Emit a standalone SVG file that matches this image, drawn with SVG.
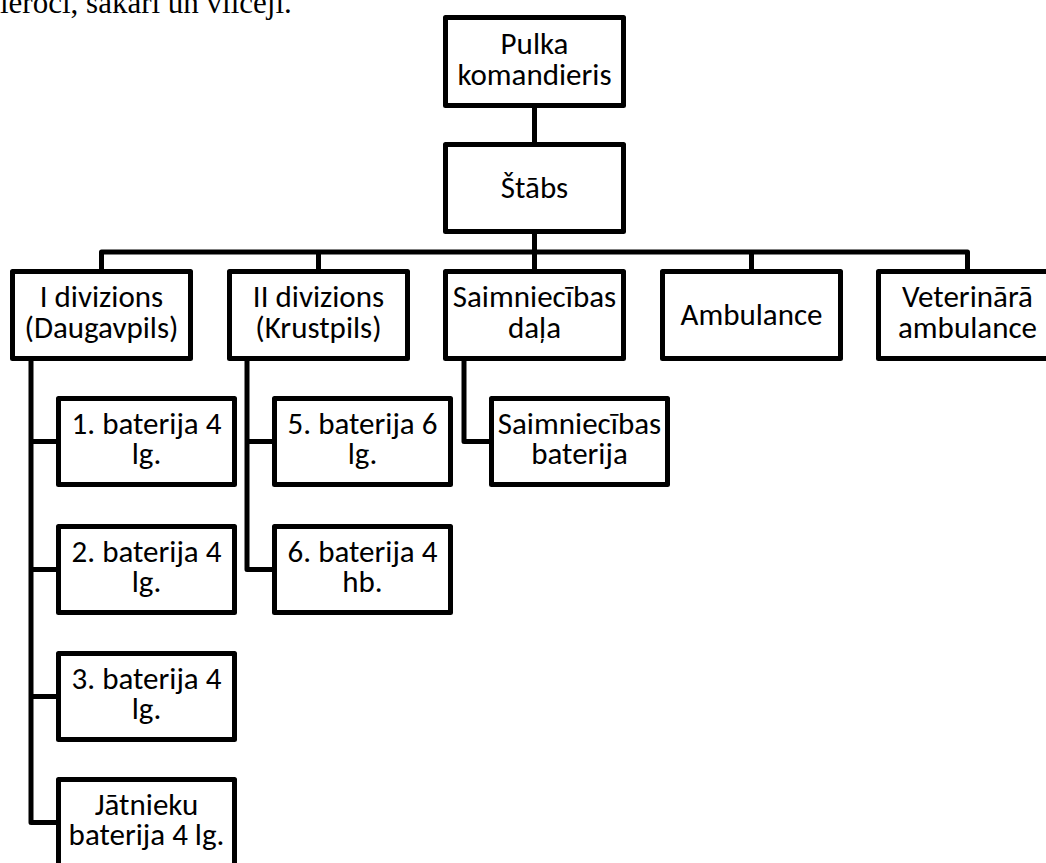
<svg xmlns="http://www.w3.org/2000/svg" width="1046" height="863" viewBox="0 0 1046 863">
<style>
.box{fill:#fff;stroke:#000;stroke-width:5;stroke-linejoin:round}
.con{fill:none;stroke:#000;stroke-width:5;stroke-linejoin:round}
.t{font-family:Carlito,Calibri,Lato,"Liberation Sans",sans-serif;font-size:31px;text-anchor:middle;fill:#000}
.cap{font-family:"Liberation Serif","Times New Roman",serif;font-size:31px;fill:#000}
</style>
<rect width="1046" height="863" fill="#fff"/>
<text class="cap" x="0" y="13">ieroči, sakari un vilcēji.</text>
<g id="connectors">
<path class="con" d="M534.5 108 V142"/>
<path class="con" d="M534.5 234 V270"/>
<path class="con" d="M101.5 270 V252 H967.5 V270"/>
<path class="con" d="M318.5 252 V270"/>
<path class="con" d="M751.5 252 V270"/>
<path class="con" d="M31 361 V822.5 H56"/>
<path class="con" d="M31 441.5 H56 M31 569.5 H56 M31 696.5 H56"/>
<path class="con" d="M247 361 V569.5 H272"/>
<path class="con" d="M247 441.5 H272"/>
<path class="con" d="M464 361 V441.5 H489"/>
</g>
<g id="pulka"><rect class="box" x="445.5" y="17.5" width="178" height="88"/><text class="t" x="534.5" y="54">Pulka</text><text class="t" x="534.5" y="85">komandieris</text></g>
<g id="stabs"><rect class="box" x="445.5" y="144.5" width="178" height="87"/><text class="t" x="534.5" y="198">Štābs</text></g>
<g id="div1"><rect class="box" x="12.5" y="271.5" width="178" height="87"/><text class="t" x="101.5" y="307">I divizions</text><text class="t" x="101.5" y="338">(Daugavpils)</text></g>
<g id="div2"><rect class="box" x="229.5" y="271.5" width="178" height="87"/><text class="t" x="318.5" y="307">II divizions</text><text class="t" x="318.5" y="338">(Krustpils)</text></g>
<g id="saimdala"><rect class="box" x="445.5" y="271.5" width="178" height="87"/><text class="t" x="534.5" y="307">Saimniecības</text><text class="t" x="534.5" y="338">daļa</text></g>
<g id="ambulance"><rect class="box" x="662.5" y="271.5" width="178" height="87"/><text class="t" x="751.5" y="325">Ambulance</text></g>
<g id="vetamb"><rect class="box" x="878.5" y="271.5" width="178" height="87"/><text class="t" x="967.5" y="307">Veterinārā</text><text class="t" x="967.5" y="338">ambulance</text></g>
<g id="bat1"><rect class="box" x="58.5" y="398.5" width="176" height="86"/><text class="t" x="146.5" y="434">1. baterija 4</text><text class="t" x="146.5" y="464">lg.</text></g>
<g id="bat2"><rect class="box" x="58.5" y="526.5" width="176" height="86"/><text class="t" x="146.5" y="562">2. baterija 4</text><text class="t" x="146.5" y="592">lg.</text></g>
<g id="bat3"><rect class="box" x="58.5" y="653.5" width="176" height="86"/><text class="t" x="146.5" y="689">3. baterija 4</text><text class="t" x="146.5" y="719">lg.</text></g>
<g id="batj"><rect class="box" x="58.5" y="779.5" width="176" height="86"/><text class="t" x="146.5" y="815">Jātnieku</text><text class="t" x="146.5" y="845">baterija 4 lg.</text></g>
<g id="bat5"><rect class="box" x="274.5" y="398.5" width="176" height="86"/><text class="t" x="362.5" y="434">5. baterija 6</text><text class="t" x="362.5" y="464">lg.</text></g>
<g id="bat6"><rect class="box" x="274.5" y="526.5" width="176" height="86"/><text class="t" x="362.5" y="562">6. baterija 4</text><text class="t" x="362.5" y="592">hb.</text></g>
<g id="saimbat"><rect class="box" x="491.5" y="398.5" width="176" height="86"/><text class="t" x="579.5" y="434">Saimniecības</text><text class="t" x="579.5" y="464">baterija</text></g>
</svg>
